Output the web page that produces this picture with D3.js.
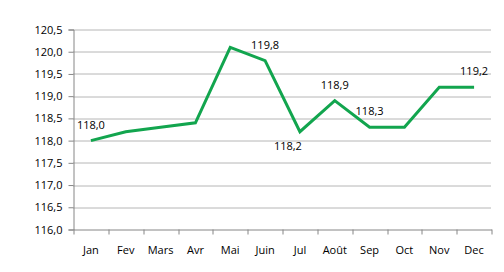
<!DOCTYPE html>
<html>
<head>
<meta charset="utf-8">
<script src="https://cdn.jsdelivr.net/npm/d3@7"></script>
<style>
  body { margin: 0; background: #fff; }
  text { font-family: "Open Sans", "DejaVu Sans", sans-serif; font-size: 11px; fill: #000; }
</style>
</head>
<body>
<div id="chart"></div>
<script>
// monthly index values
var months = ["Jan", "Fev", "Mars", "Avr", "Mai", "Juin", "Jul", "Août", "Sep", "Oct", "Nov", "Dec"];
var values = [118.0, 118.2, 118.3, 118.4, 120.1, 119.8, 118.2, 118.9, 118.3, 118.3, 119.2, 119.2];
var yTicks = [116.0, 116.5, 117.0, 117.5, 118.0, 118.5, 119.0, 119.5, 120.0, 120.5];
// points that carry a data label, and whether it sits above or below
var labelled = [0, 5, 6, 7, 8, 11];
var labelSide = ["above", "above", "below", "above", "above", "above"];

var width = 504, height = 272
  , margin = {top: 29.5, right: 12.5, bottom: 42.5, left: 73.5}
  , svg = d3.select("#chart").append("svg").attr("width", width).attr("height", height)
  , g = svg.append("g").attr("transform", "translate(" + margin.left + "," + margin.top + ")")
  , w = width - margin.left - margin.right
  , h = height - margin.top - margin.bottom;

var x = d3.scaleBand().domain(months).range([0, w]);
var y = d3.scaleLinear().domain([116, 120.5]).range([h, 0]);
var fmt = function (v) { return d3.format(".1f")(v).replace(".", ","); };

// dotted gridlines
g.selectAll("line.grid").data(yTicks.slice(1)).enter().append("line")
  .attr("x1", 0).attr("x2", w)
  .attr("y1", function (d) { return Math.round(y(d)) + 0.5; })
  .attr("y2", function (d) { return Math.round(y(d)) + 0.5; })
  .attr("stroke", "#6e6e6e").attr("stroke-dasharray", "1,1");

var yAxis = g.append("g").call(d3.axisLeft(y).tickValues(yTicks).tickSize(5).tickPadding(5).tickFormat(fmt));
var xAxis = g.append("g").attr("transform", "translate(0," + h + ")")
  .call(d3.axisBottom(x).tickSize(0).tickPadding(17));

// category separators on the x axis
xAxis.selectAll("line.sep").data(months.concat([""])).enter().append("line")
  .attr("x1", function (d, i) { return Math.round(i * x.step()) + 0.5; })
  .attr("x2", function (d, i) { return Math.round(i * x.step()) + 0.5; })
  .attr("y1", 0).attr("y2", 5).attr("stroke", "#868686");

[yAxis, xAxis].forEach(function (a) {
  a.select(".domain").attr("stroke", "#868686");
  a.selectAll(".tick line").attr("stroke", "#868686");
  a.selectAll("text").style("font-family", "\"Open Sans\", \"DejaVu Sans\", sans-serif").style("font-size", "11px").attr("fill", "#000");
});
yAxis.selectAll(".tick text").attr("dx", "-1");

var line = d3.line()
  .x(function (d, i) { return x(months[i]) + x.bandwidth() / 2; })
  .y(function (d) { return y(d); });

g.append("path").datum(values)
  .attr("d", line)
  .attr("fill", "none").attr("stroke", "#12a54e").attr("stroke-width", 3).attr("stroke-linejoin", "miter");

g.selectAll("text.lbl").data(labelled).enter().append("text")
  .attr("class", "lbl")
  .attr("text-anchor", "middle")
  .attr("x", function (d, i) { return x(months[d]) + x.bandwidth() / 2 + (labelSide[i] == "below" ? -12 : 0); })
  .attr("y", function (d, i) { return y(values[d]) + (labelSide[i] == "below" ? 18 : -12); })
  .text(function (d) { return fmt(values[d]); });
</script>
</body>
</html>
